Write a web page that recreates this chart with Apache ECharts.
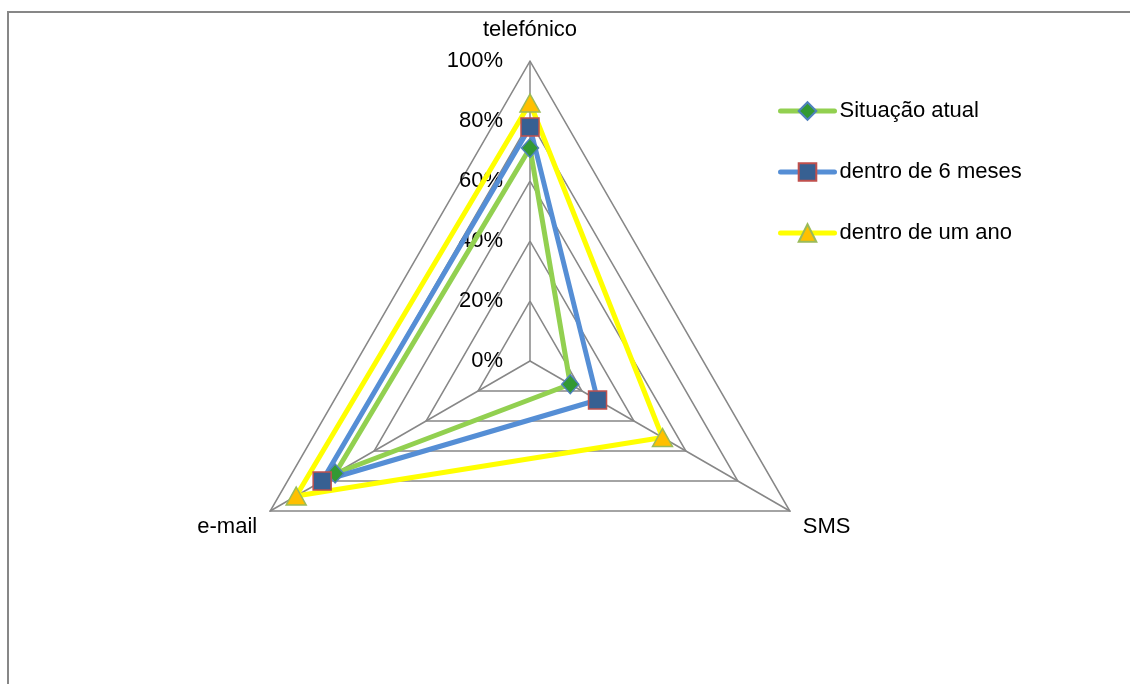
<!DOCTYPE html>
<html>
<head>
<meta charset="utf-8">
<script src="https://cdn.jsdelivr.net/npm/echarts@6/dist/echarts.min.js"></script>
<style>
  html, body { margin: 0; padding: 0; background: #fff; }
  #chart { width: 1130px; height: 684px; }
</style>
</head>
<body>
<div id="chart"></div>
<script>
// Radar axes (ECharts places indicators counter-clockwise from the top)
const indicatorNames = ['telefónico', 'e-mail', 'SMS'];
// Shares per channel, in the same order as indicatorNames
const situacaoAtual = [0.71, 0.75, 0.155];
const dentro6Meses = [0.78, 0.80, 0.26];
const dentroUmAno = [0.86, 0.90, 0.51];
const seriesNames = ['Situação atual', 'dentro de 6 meses', 'dentro de um ano'];
const tickLabels = ['0%', '20%', '40%', '60%', '80%', '100%'];

const FONT = '"Liberation Sans", Arial, sans-serif';
const GRID_GRAY = '#878787';

// Per-series look: line colour, marker shape/size, marker fill and outline
const looks = [
  { line: '#92D050', symbol: 'diamond', size: [17, 19], fill: '#339933', border: '#4F81BD' },
  { line: '#558ED5', symbol: 'rect', size: 18, fill: '#376092', border: '#C0504D' },
  { line: '#FFFF00', symbol: 'triangle', size: [20, 18], fill: '#FFC000', border: '#9BBB59' }
];
const values = [situacaoAtual, dentro6Meses, dentroUmAno];

const chart = echarts.init(document.getElementById('chart'), null, { renderer: 'canvas' });

// Empty line series: they only supply the line-with-marker legend icons
const legendSeries = seriesNames.map((name, i) => ({
  type: 'line',
  name: name,
  data: [],
  symbol: looks[i].symbol,
  lineStyle: { color: looks[i].line, width: 5, cap: 'round' },
  itemStyle: { color: looks[i].fill, borderColor: looks[i].border, borderWidth: 1.5 }
}));

const radarSeries = seriesNames.map((name, i) => ({
  type: 'radar',
  name: name,
  radarIndex: 0,
  symbol: looks[i].symbol,
  symbolSize: looks[i].size,
  lineStyle: { color: looks[i].line, width: 5 },
  itemStyle: { color: looks[i].fill, borderColor: looks[i].border, borderWidth: 1.5 },
  emphasis: { disabled: true },
  data: [{ name: name, value: values[i] }]
}));

chart.setOption({
  animation: false,
  backgroundColor: '#ffffff',
  graphic: [{
    type: 'rect',
    shape: { x: 8, y: 12, width: 1400, height: 900 },
    style: { fill: 'none', stroke: GRID_GRAY, lineWidth: 2 },
    silent: true,
    z: -10
  }],
  // Percent scale drawn along the vertical (telefónico) axis only
  grid: { left: 530, top: 61, width: 1, height: 300, containLabel: false },
  xAxis: { type: 'value', show: false },
  yAxis: {
    type: 'value',
    min: 0, max: 1, interval: 0.2,
    axisLine: { show: false },
    axisTick: { show: false },
    splitLine: { show: false },
    axisLabel: {
      margin: 27,
      color: '#000',
      fontSize: 22,
      fontFamily: FONT,
      formatter: v => tickLabels[Math.round(v / 0.2)]
    }
  },
  legend: {
    orient: 'vertical',
    left: 778,
    top: 100,
    padding: 0,
    itemWidth: 54,
    itemHeight: 22,
    itemGap: 39,
    lineStyle: { width: 5, cap: 'round' },
    textStyle: { color: '#000', fontSize: 22, fontFamily: FONT, lineHeight: 22 },
    data: seriesNames
  },
  radar: {
    center: [530, 361],
    radius: 300,
    shape: 'polygon',
    splitNumber: 5,
    startAngle: 90,
    indicator: indicatorNames.map(n => ({ name: n, min: 0, max: 1 })),
    axisName: {
      color: '#000',
      fontSize: 22,
      fontFamily: FONT,
      formatter: n => (n === indicatorNames[0] ? '{t|' + n + '}' : '{s|' + n + '}'),
      rich: {
        t: { fontSize: 22, fontFamily: FONT, color: '#000', padding: [0, 0, 5, 0] },
        s: { fontSize: 22, fontFamily: FONT, color: '#000', padding: [16, 0, 0, 0] }
      }
    },
    nameGap: 15,
    axisLine: { lineStyle: { color: GRID_GRAY, width: 1.5 } },
    splitLine: { lineStyle: { color: GRID_GRAY, width: 1.5 } },
    splitArea: { show: false },
    axisTick: { show: false },
    axisLabel: { show: false }
  },
  series: legendSeries.concat(radarSeries)
});
</script>
</body>
</html>
